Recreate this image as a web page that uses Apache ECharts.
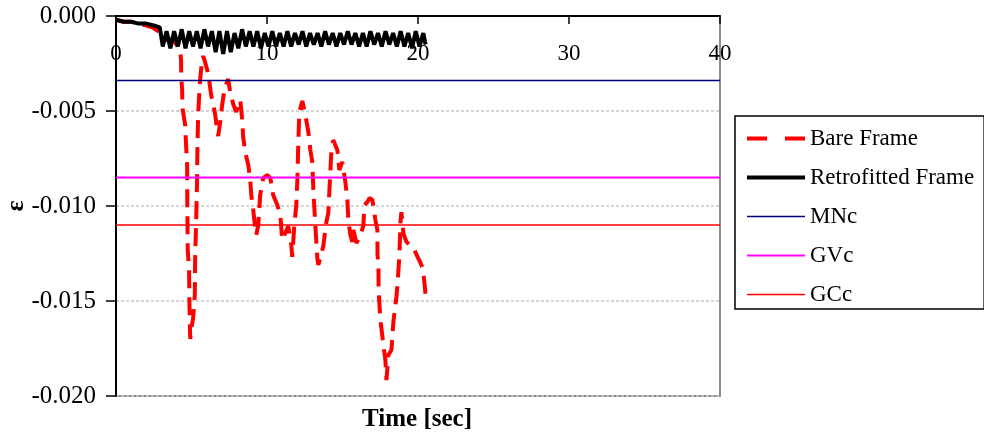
<!DOCTYPE html>
<html>
<head>
<meta charset="utf-8">
<script src="https://cdn.jsdelivr.net/npm/echarts@6/dist/echarts.min.js"></script>
<style>
html,body{margin:0;padding:0;background:#fff;}
#chart{width:984px;height:436px;}
</style>
</head>
<body>
<div id="chart"></div>
<script>
// ---- data (time [sec], strain) ----
const seriesNames = ["Bare Frame", "Retrofitted Frame", "MNc", "GVc", "GCc"];

const bareFrame = [
  [0, -0.0002], [0.5, -0.0003], [1.0, -0.0003], [1.5, -0.0004], [2.0, -0.0005], [2.4, -0.0006],
  [2.8, -0.0008], [3.1, -0.0010], [3.4, -0.0013], [3.7, -0.0012], [3.98, -0.00147], [4.25, -0.00179],
  [4.31, -0.00232], [4.32, -0.00316], [4.38, -0.00389], [4.40, -0.00484], [4.58, -0.00574],
  [4.64, -0.00679], [4.71, -0.00784], [4.72, -0.00968], [4.75, -0.01232], [4.84, -0.01337],
  [4.86, -0.01495], [4.90, -0.01653], [4.92, -0.01700], [4.97, -0.01653], [5.11, -0.01589],
  [5.22, -0.01468], [5.24, -0.01284], [5.31, -0.01074], [5.37, -0.00863], [5.39, -0.00705],
  [5.44, -0.00521], [5.51, -0.00416], [5.57, -0.00337], [5.70, -0.00232], [5.77, -0.00211],
  [5.90, -0.00242], [6.04, -0.00284], [6.17, -0.00337], [6.30, -0.00416], [6.43, -0.00463],
  [6.57, -0.00521], [6.70, -0.00600], [6.77, -0.00632], [6.90, -0.00558], [7.03, -0.00468],
  [7.16, -0.00400], [7.30, -0.00358], [7.43, -0.00332], [7.56, -0.00400], [7.76, -0.00463],
  [7.96, -0.00505], [8.09, -0.00495], [8.23, -0.00442], [8.36, -0.00547], [8.42, -0.00637],
  [8.56, -0.00716], [8.76, -0.00784], [8.89, -0.00863], [8.96, -0.00942], [9.09, -0.01021],
  [9.22, -0.01116], [9.29, -0.01153], [9.42, -0.01100], [9.55, -0.00942], [9.75, -0.00853],
  [10.02, -0.00837], [10.22, -0.00853], [10.41, -0.00942], [10.68, -0.00995], [10.88, -0.01047],
  [11.01, -0.01179], [11.21, -0.01142], [11.41, -0.01105], [11.61, -0.01205], [11.67, -0.01268],
  [11.81, -0.01100], [11.94, -0.00995], [12.01, -0.00863], [12.07, -0.00679], [12.14, -0.00505],
  [12.34, -0.00447], [12.54, -0.00521], [12.74, -0.00611], [12.87, -0.00705], [13.00, -0.00768],
  [13.07, -0.00916], [13.20, -0.01100], [13.33, -0.01274], [13.40, -0.01310], [13.53, -0.01274],
  [13.73, -0.01210], [13.93, -0.01084], [14.06, -0.01037], [14.26, -0.00716], [14.39, -0.00653],
  [14.66, -0.00705], [14.79, -0.00811], [14.99, -0.00768], [15.19, -0.00874], [15.32, -0.00968],
  [15.39, -0.01074], [15.52, -0.01153], [15.65, -0.01189], [15.72, -0.01126], [15.92, -0.01195],
  [16.12, -0.01168], [16.25, -0.01158], [16.38, -0.01105], [16.45, -0.00995], [16.65, -0.00979],
  [16.78, -0.00958], [16.98, -0.00968], [17.18, -0.01074], [17.31, -0.01126], [17.32, -0.01258],
  [17.38, -0.01310], [17.39, -0.01442], [17.51, -0.01600], [17.71, -0.01732], [17.84, -0.01810],
  [17.91, -0.01916], [18.04, -0.01784], [18.24, -0.01758], [18.37, -0.01610], [18.57, -0.01479],
  [18.64, -0.01416], [18.77, -0.01258], [18.84, -0.01084], [18.90, -0.01032], [19.04, -0.01147],
  [19.24, -0.01189], [19.50, -0.01210], [19.70, -0.01221], [19.97, -0.01268], [20.17, -0.01300],
  [20.30, -0.01326], [20.43, -0.01405], [20.50, -0.01468]
];

const retrofittedFrame = [
  [0, -0.0002], [0.5, -0.0003], [1.0, -0.0003], [1.5, -0.0004], [2.0, -0.0004], [2.5, -0.0005],
  [2.9, -0.0006], [3.1, -0.0016], [3.35, -0.0008], [3.6, -0.0017], [3.85, -0.0008], [4.1, -0.0016],
  [4.35, -0.0007], [4.6, -0.0017], [4.85, -0.0008], [5.1, -0.0016], [5.35, -0.0008], [5.6, -0.0017],
  [5.85, -0.0007], [6.1, -0.0016], [6.35, -0.0008], [6.6, -0.0019], [6.85, -0.0008], [7.1, -0.0020],
  [7.35, -0.0008], [7.6, -0.0019], [7.85, -0.0009], [8.1, -0.0017], [8.35, -0.0007], [8.6, -0.0016],
  [8.85, -0.0008], [9.1, -0.0016], [9.35, -0.0008], [9.6, -0.0017], [9.85, -0.0009], [10.1, -0.0016],
  [10.35, -0.0008], [10.6, -0.0016], [10.85, -0.0009], [11.1, -0.0016], [11.35, -0.0008], [11.6, -0.0016],
  [11.85, -0.0009], [12.1, -0.0015], [12.35, -0.0008], [12.6, -0.0016], [12.85, -0.0009], [13.1, -0.0015],
  [13.35, -0.0009], [13.6, -0.0016], [13.85, -0.0008], [14.1, -0.0015], [14.35, -0.0009], [14.6, -0.0016],
  [14.85, -0.0009], [15.1, -0.0015], [15.35, -0.0008], [15.6, -0.0015], [15.85, -0.0009], [16.1, -0.0016],
  [16.35, -0.0009], [16.6, -0.0016], [16.85, -0.0008], [17.1, -0.0015], [17.35, -0.0009], [17.6, -0.0016],
  [17.85, -0.0008], [18.1, -0.0015], [18.35, -0.0009], [18.6, -0.0016], [18.85, -0.0008], [19.1, -0.0016],
  [19.35, -0.0009], [19.6, -0.0017], [19.85, -0.0008], [20.1, -0.0016], [20.35, -0.0009], [20.5, -0.0015]
];

const thresholdMNc = -0.0034;
const thresholdGVc = -0.0085;
const thresholdGCc = -0.0110;

const xTicks = [0, 10, 20, 30, 40];
const yTicks = [0, -0.005, -0.010, -0.015, -0.020];

// ---- chart ----
const FONT = "'Liberation Serif', 'Times New Roman', serif";
const xMin = xTicks[0], xMax = xTicks[xTicks.length - 1];
const chart = echarts.init(document.getElementById('chart'), null, {renderer: 'canvas'});

function hline(v) { return [[xMin, v], [xMax, v]]; }

const styles = [
  {color: '#ff0000', width: 4, type: [18, 9]},
  {color: '#000000', width: 4, type: 'solid'},
  {color: '#000080', width: 1.5, type: 'solid'},
  {color: '#ff00ff', width: 2, type: 'solid'},
  {color: '#ff0000', width: 1.5, type: 'solid'}
];
const seriesData = [bareFrame, retrofittedFrame, hline(thresholdMNc), hline(thresholdGVc), hline(thresholdGCc)];

chart.setOption({
  animation: false,
  backgroundColor: '#ffffff',
  grid: {left: 116, top: 16, right: 264, bottom: 40, containLabel: false, outerBoundsMode: 'none',
    show: true, borderColor: '#8c8c8c', borderWidth: 2},
  legend: {
    orient: 'vertical', left: 735, top: 116,
    padding: [11, 10, 3, 10],
    itemWidth: 58, itemHeight: 14, itemGap: 16,
    borderColor: '#000', borderWidth: 1.5,
    itemStyle: {opacity: 0},
    lineStyle: {width: 'inherit'},
    textStyle: {fontFamily: FONT, fontSize: 23, color: '#000'},
    data: seriesNames.map((n, i) => ({
      name: n,
      itemStyle: {opacity: 0},
      lineStyle: {color: styles[i].color, width: styles[i].width, type: i === 0 ? [20, 18] : 'solid'}
    }))
  },
  xAxis: {
    type: 'value', position: 'top', min: xMin, max: xMax, interval: 10,
    axisLine: {show: true, onZero: false, lineStyle: {color: '#000', width: 2}},
    axisTick: {show: true, inside: true, length: 8, lineStyle: {color: '#000', width: 1.5}},
    axisLabel: {inside: true, margin: 26, fontFamily: FONT, fontSize: 23, color: '#000'},
    splitLine: {show: false}
  },
  yAxis: {
    type: 'value', min: yTicks[yTicks.length - 1], max: yTicks[0], interval: 0.005,
    axisLine: {show: true, lineStyle: {color: '#000', width: 2}},
    axisTick: {show: true, length: 10, lineStyle: {color: '#000', width: 1.5}},
    axisLabel: {margin: 20, fontFamily: FONT, fontSize: 25, color: '#000',
      formatter: v => v.toFixed(3)},
    splitLine: {show: true, lineStyle: {color: '#c8c8c8', type: [3, 2], width: 1.5}}
  },
  graphic: [{
    type: 'text', x: 417, y: 420,
    style: {text: 'Time [sec]', font: "bold 25px " + FONT, fill: '#000', textAlign: 'center', textVerticalAlign: 'middle'}
  }, {
    type: 'text', x: 16, y: 206, rotation: Math.PI / 2,
    style: {text: 'ε', font: "bold 26px " + FONT, fill: '#000', textAlign: 'center', textVerticalAlign: 'middle'}
  }],
  series: seriesNames.map((n, i) => ({
    name: n, type: 'line', data: seriesData[i], symbol: 'none',
    lineStyle: {color: styles[i].color, width: styles[i].width, type: styles[i].type},
    itemStyle: {color: styles[i].color}
  }))
});
</script>
</body>
</html>
